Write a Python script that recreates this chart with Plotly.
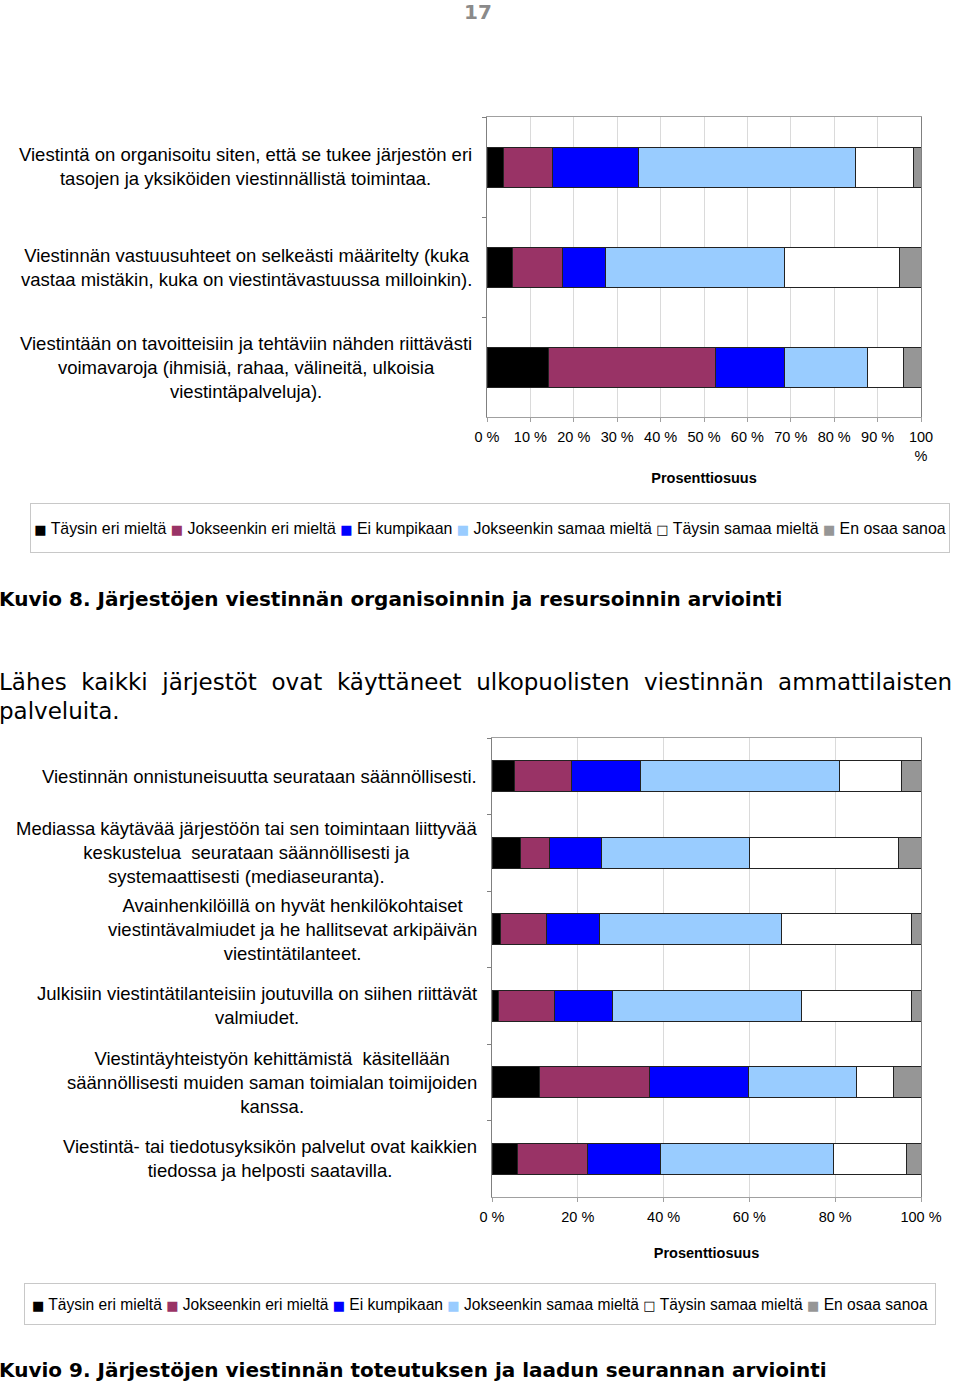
import plotly.graph_objects as go

W, H = 960, 1385

# ---------------- data ----------------
series_names = ["Täysin eri mieltä", "Jokseenkin eri mieltä", "Ei kumpikaan",
                "Jokseenkin samaa mieltä", "Täysin samaa mieltä", "En osaa sanoa"]
series_colors = ["#000000", "#993366", "#0000FF", "#99CCFF", "#FFFFFF", "#969696"]

# Chart 1 (Kuvio 8)
cats1 = [
    "Viestintä on organisoitu siten, että se tukee järjestön eri<br>tasojen ja yksiköiden viestinnällistä toimintaa.",
    "Viestinnän vastuusuhteet on selkeästi määritelty (kuka<br>vastaa mistäkin, kuka on viestintävastuussa milloinkin).",
    "Viestintään on tavoitteisiin ja tehtäviin nähden riittävästi<br>voimavaroja (ihmisiä, rahaa, välineitä, ulkoisia<br>viestintäpalveluja).",
]
c1_taysin_eri = [3.7, 5.9, 14.2]
c1_jokseenkin_eri = [11.4, 11.5, 38.4]
c1_ei_kumpikaan = [19.9, 9.9, 16.0]
c1_jokseenkin_samaa = [50.0, 41.3, 19.0]
c1_taysin_samaa = [13.3, 26.5, 8.4]
c1_en_osaa = [1.7, 4.9, 4.0]
c1_series = [c1_taysin_eri, c1_jokseenkin_eri, c1_ei_kumpikaan,
             c1_jokseenkin_samaa, c1_taysin_samaa, c1_en_osaa]
ticks1 = [0, 10, 20, 30, 40, 50, 60, 70, 80, 90, 100]
ticktext1 = ["0 %", "10 %", "20 %", "30 %", "40 %", "50 %", "60 %", "70 %", "80 %", "90 %", "100<br>%"]

# Chart 2 (Kuvio 9)
cats2 = [
    "Viestinnän onnistuneisuutta seurataan säännöllisesti.",
    "Mediassa käytävää järjestöön tai sen toimintaan liittyvää<br>keskustelua  seurataan säännöllisesti ja<br>systemaattisesti (mediaseuranta).",
    "Avainhenkilöillä on hyvät henkilökohtaiset<br>viestintävalmiudet ja he hallitsevat arkipäivän<br>viestintätilanteet.",
    "Julkisiin viestintätilanteisiin joutuvilla on siihen riittävät<br>valmiudet.",
    "Viestintäyhteistyön kehittämistä  käsitellään<br>säännöllisesti muiden saman toimialan toimijoiden<br>kanssa.",
    "Viestintä- tai tiedotusyksikön palvelut ovat kaikkien<br>tiedossa ja helposti saatavilla.",
]
c2_taysin_eri = [5.3, 6.7, 1.9, 1.4, 11.1, 5.9]
c2_jokseenkin_eri = [13.3, 6.8, 10.9, 13.2, 25.5, 16.3]
c2_ei_kumpikaan = [15.9, 12.0, 12.3, 13.5, 23.3, 17.0]
c2_jokseenkin_samaa = [46.4, 34.6, 42.4, 44.1, 25.0, 40.5]
c2_taysin_samaa = [14.6, 34.7, 30.3, 25.5, 8.8, 17.0]
c2_en_osaa = [4.5, 5.2, 2.2, 2.3, 6.3, 3.3]
c2_series = [c2_taysin_eri, c2_jokseenkin_eri, c2_ei_kumpikaan,
             c2_jokseenkin_samaa, c2_taysin_samaa, c2_en_osaa]
ticks2 = [0, 20, 40, 60, 80, 100]
ticktext2 = ["0 %", "20 %", "40 %", "60 %", "80 %", "100 %"]

axis_title = "Prosenttiosuus"
page_number = "17"
caption1 = "Kuvio 8. Järjestöjen viestinnän organisoinnin ja resursoinnin arviointi"
caption2 = "Kuvio 9. Järjestöjen viestinnän toteutuksen ja laadun seurannan arviointi"
para_line1 = "Lähes kaikki järjestöt ovat käyttäneet ulkopuolisten viestinnän ammattilaisten"
para_line2 = "palveluita."

# ---------------- helpers ----------------
def px(x):
    return x / W

def py(y):
    return 1 - y / H

ARIAL = "Liberation Sans, Arial, sans-serif"
VERDANA = "DejaVu Sans, Verdana, sans-serif"

fig = go.Figure()
for i, name in enumerate(series_names):
    fig.add_trace(go.Bar(
        y=cats1, x=c1_series[i], orientation="h", name=name,
        marker=dict(color=series_colors[i], line=dict(color="#222222", width=1)),
        xaxis="x", yaxis="y", showlegend=False))
for i, name in enumerate(series_names):
    fig.add_trace(go.Bar(
        y=cats2, x=c2_series[i], orientation="h", name=name,
        marker=dict(color=series_colors[i], line=dict(color="#222222", width=1)),
        xaxis="x2", yaxis="y2", showlegend=False))

common_x = dict(range=[0, 100], showgrid=True, gridcolor="#DADADA", gridwidth=1,
                zeroline=False, showline=True, linecolor="#A0A0A0", linewidth=1,
                mirror=True, ticks="outside", ticklen=4, tickcolor="#A0A0A0",
                ticklabelstandoff=3,
                tickfont=dict(family=ARIAL, size=14.5, color="#000000"),
                automargin=False, fixedrange=True)
common_y = dict(type="category", autorange="reversed", showticklabels=False,
                showgrid=False, zeroline=False, showline=True, linecolor="#808080",
                linewidth=1, mirror=True, ticks="outside", tickson="boundaries",
                ticklen=4, tickcolor="#808080", automargin=False, fixedrange=True)

fig.update_layout(
    width=W, height=H, autosize=False, margin=dict(l=0, r=0, t=0, b=0, pad=0),
    paper_bgcolor="white", plot_bgcolor="white",
    barmode="stack", bargap=0.6,
    xaxis=dict(common_x, domain=[px(487), px(921)], anchor="y",
               tickvals=ticks1, ticktext=ticktext1,
               title=dict(text="<b>" + axis_title + "</b>", standoff=9,
                          font=dict(family=ARIAL, size=14.5, color="#000000"))),
    yaxis=dict(common_y, domain=[py(417), py(117)], anchor="x"),
    xaxis2=dict(common_x, domain=[px(492), px(921)], anchor="y2",
                tickvals=ticks2, ticktext=ticktext2,
                title=dict(text="<b>" + axis_title + "</b>", standoff=23,
                           font=dict(family=ARIAL, size=14.5, color="#000000"))),
    yaxis2=dict(common_y, domain=[py(1197), py(738)], anchor="x2"),
)

annotations = []
# category labels
for c in cats1:
    annotations.append(dict(text=c, xref="paper", x=px(474), xanchor="right",
                            yref="y", y=c, yanchor="middle", align="center",
                            showarrow=False,
                            font=dict(family=ARIAL, size=18.5, color="#000000")))
for c in cats2:
    annotations.append(dict(text=c, xref="paper", x=px(479), xanchor="right",
                            yref="y2", y=c, yanchor="middle", align="center",
                            showarrow=False,
                            font=dict(family=ARIAL, size=18.5, color="#000000")))

# legends (text-based, built from the series lists)
def legend_text():
    parts = []
    for name, col in zip(series_names, series_colors):
        if col.upper() == "#FFFFFF":
            sym = "<span style='color:#000000;font-family:DejaVu Sans;font-size:13px'>□</span>"
        else:
            sym = "<span style='color:%s;font-family:DejaVu Sans;font-size:13px'>■</span>" % col
        parts.append(sym + " " + name)
    return " ".join(parts)

annotations.append(dict(text=legend_text(), xref="paper", yref="paper",
                        x=px(490), y=py(528), xanchor="center", yanchor="middle",
                        showarrow=False, width=916, height=46, borderpad=1,
                        bordercolor="#C8C8C8", borderwidth=1, bgcolor="white",
                        font=dict(family=ARIAL, size=15.9, color="#000000")))
annotations.append(dict(text=legend_text(), xref="paper", yref="paper",
                        x=px(480), y=py(1304), xanchor="center", yanchor="middle",
                        showarrow=False, width=908, height=38, borderpad=1,
                        bordercolor="#C8C8C8", borderwidth=1, bgcolor="white",
                        font=dict(family=ARIAL, size=15.6, color="#000000")))

# page texts
def justify(s):
    # the source paragraph is justified: widen the word gaps
    return " \u00a0".join(s.split(" "))

annotations.append(dict(text="<b>" + page_number + "</b>", xref="paper", yref="paper",
                        x=px(478), y=py(12), xanchor="center", yanchor="middle",
                        showarrow=False,
                        font=dict(family=VERDANA, size=20, color="#8A8A8A")))
annotations.append(dict(text="<b>" + caption1 + "</b>", xref="paper", yref="paper",
                        x=px(-3), y=py(599), xanchor="left", yanchor="middle",
                        showarrow=False,
                        font=dict(family=VERDANA, size=20, color="#000000")))
annotations.append(dict(text=justify(para_line1), xref="paper", yref="paper",
                        x=px(-3), y=py(682), xanchor="left", yanchor="middle",
                        showarrow=False,
                        font=dict(family=VERDANA, size=23, color="#000000")))
annotations.append(dict(text=para_line2, xref="paper", yref="paper",
                        x=px(-3), y=py(711), xanchor="left", yanchor="middle",
                        showarrow=False,
                        font=dict(family=VERDANA, size=23, color="#000000")))
annotations.append(dict(text="<b>" + caption2 + "</b>", xref="paper", yref="paper",
                        x=px(-3), y=py(1370), xanchor="left", yanchor="middle",
                        showarrow=False,
                        font=dict(family=VERDANA, size=20, color="#000000")))

fig.update_layout(annotations=annotations)
fig.write_html("out.html",
               config={"displayModeBar": False},
               post_script="document.body.style.margin='0px';"
                           "document.body.style.overflow='hidden';")
